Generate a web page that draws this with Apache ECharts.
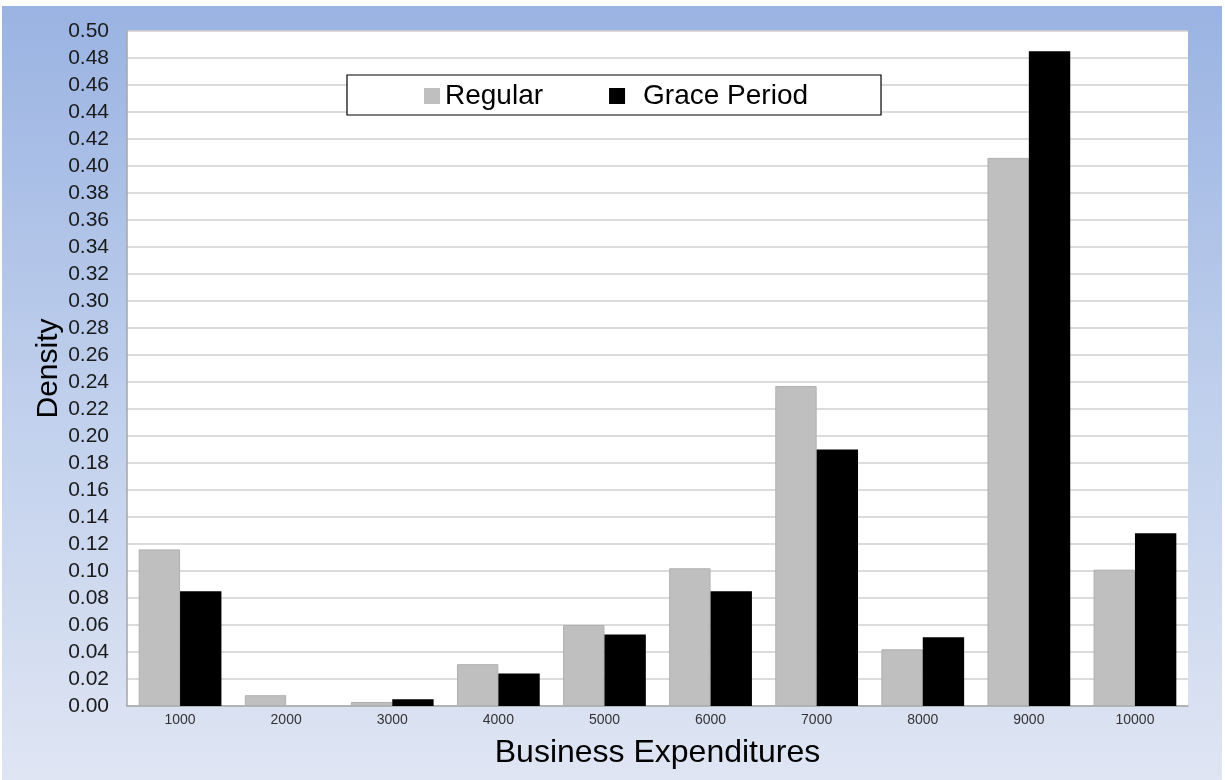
<!DOCTYPE html>
<html>
<head>
<meta charset="utf-8">
<title>Business Expenditures Density</title>
<script src="https://cdn.jsdelivr.net/npm/echarts@6/dist/echarts.min.js"></script>
<style>
  html, body { margin: 0; padding: 0; background: #ffffff; }
  #chart { position: absolute; left: 2px; top: 6px; width: 1220px; height: 774px; }
</style>
</head>
<body>
<div id="chart"></div>
<script>
// Expenditure bins (x-axis categories)
const categories = ['1000', '2000', '3000', '4000', '5000', '6000', '7000', '8000', '9000', '10000'];
// Density per bin for each group
const regular = [0.116, 0.008, 0.003, 0.031, 0.060, 0.102, 0.237, 0.042, 0.406, 0.101];
const gracePeriod = [0.085, 0.000, 0.005, 0.024, 0.053, 0.085, 0.190, 0.051, 0.485, 0.128];
// Y-axis range and step
const yMin = 0, yMax = 0.50, yStep = 0.02;

const chart = echarts.init(document.getElementById('chart'), null, { renderer: 'canvas' });
const font = 'Liberation Sans, Arial, Helvetica, sans-serif';

chart.setOption({
  animation: false,
  backgroundColor: {
    type: 'linear', x: 0, y: 0, x2: 0, y2: 1,
    colorStops: [
      { offset: 0, color: '#9ab3e2' },
      { offset: 0.5, color: '#bfcfec' },
      { offset: 1, color: '#dfe5f3' }
    ]
  },
  textStyle: { fontFamily: font },
  grid: { left: 125, right: 34, top: 25, bottom: 74, show: true, backgroundColor: '#ffffff', borderWidth: 0 },
  legend: {
    left: 345, top: 69,
    padding: [7, 73, 5, 77],
    backgroundColor: '#ffffff',
    borderColor: '#000000',
    borderWidth: 1.2,
    borderRadius: 0,
    itemWidth: 16, itemHeight: 16, itemGap: 66,
    icon: 'rect',
    itemStyle: { borderWidth: 0 },
    textStyle: { fontFamily: font, fontSize: 28, color: '#000000', padding: [0, 0, 0, 0] },
    data: [
      { name: 'Regular' },
      { name: 'Grace Period', textStyle: { padding: [0, 0, 0, 13] } }
    ]
  },
  xAxis: {
    type: 'category',
    data: categories,
    name: 'Business Expenditures',
    nameLocation: 'middle',
    nameGap: 31,
    nameMoveOverlap: false,
    nameTextStyle: { fontFamily: font, fontSize: 32, color: '#000000' },
    axisLine: { show: true, lineStyle: { color: '#a6a6a6', width: 1.5 } },
    axisTick: { show: false },
    axisLabel: { fontFamily: font, fontSize: 14, color: '#333333', margin: 7 }
  },
  yAxis: {
    type: 'value',
    min: yMin, max: yMax, interval: yStep,
    name: 'Density',
    nameLocation: 'middle',
    nameGap: 63,
    nameMoveOverlap: false,
    nameTextStyle: { fontFamily: font, fontSize: 30, color: '#000000' },
    axisLine: { show: true, lineStyle: { color: '#a6a6a6', width: 1.5 } },
    axisTick: { show: false },
    axisLabel: {
      fontFamily: font, fontSize: 21, color: '#1a1a1a', margin: 18,
      formatter: v => v.toFixed(2)
    },
    splitLine: { show: true, lineStyle: { color: '#d0d0d0', width: 1.5 } }
  },
  series: [
    {
      name: 'Regular',
      type: 'bar',
      data: regular,
      barGap: '0%',
      barCategoryGap: '22%',
      itemStyle: { color: '#bfbfbf', borderColor: '#b0b0b0', borderWidth: 1 }
    },
    {
      name: 'Grace Period',
      type: 'bar',
      data: gracePeriod,
      barGap: '0%',
      barCategoryGap: '22%',
      itemStyle: { color: '#000000', borderWidth: 0 }
    }
  ]
});
</script>
</body>
</html>
